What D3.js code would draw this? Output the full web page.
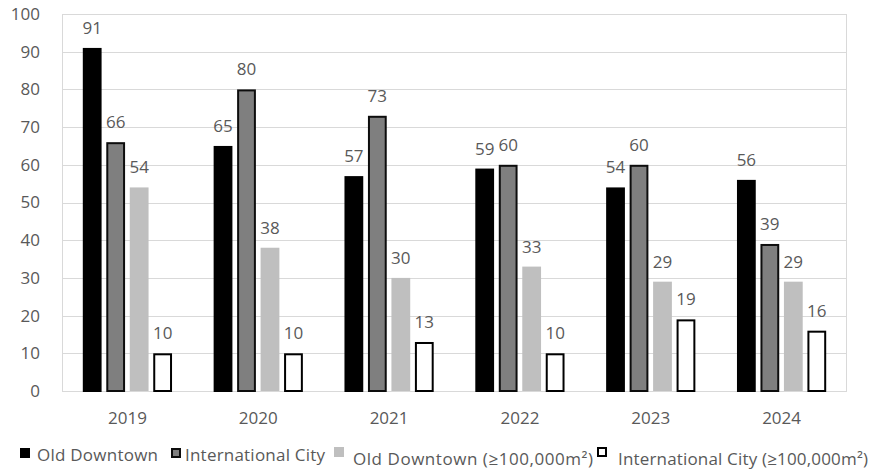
<!DOCTYPE html>
<html>
<head>
<meta charset="utf-8">
<script src="https://cdn.jsdelivr.net/npm/d3@7"></script>
<style>
  html, body { margin: 0; padding: 0; background: #fff; }
  svg { display: block; }
  text { font-family: "Open Sans", sans-serif; }
</style>
</head>
<body>
<svg id="chart" width="874" height="470"></svg>
<script>
const years = ["2019", "2020", "2021", "2022", "2023", "2024"];
const seriesNames = [
  "Old Downtown",
  "International City",
  "Old Downtown (≥100,000m²)",
  "International City (≥100,000m²)"
];
const oldDowntown = [91, 65, 57, 59, 54, 56];
const internationalCity = [66, 80, 73, 60, 60, 39];
const oldDowntownLarge = [54, 38, 30, 33, 29, 29];
const internationalCityLarge = [10, 10, 13, 10, 19, 16];
const yTicks = [0, 10, 20, 30, 40, 50, 60, 70, 80, 90, 100];

const seriesValues = [oldDowntown, internationalCity, oldDowntownLarge, internationalCityLarge];
const styles = [
  { fill: "#000000", stroke: "#000000", sw: 2 },
  { fill: "#7f7f7f", stroke: "#0d0d0d", sw: 2 },
  { fill: "#bfbfbf", stroke: "none", sw: 0 },
  { fill: "#ffffff", stroke: "#000000", sw: 2 }
];

const svg = d3.select("#chart");
const m = { left: 62, right: 847, top: 14, bottom: 391 };

const x0 = d3.scaleBand().domain(years).range([m.left, m.right])
  .paddingInner(0.318).paddingOuter(0.159);
const x1 = d3.scaleBand().domain(d3.range(4)).range([0, x0.bandwidth()])
  .paddingInner(0.2);
const y = d3.scaleLinear().domain([0, 100]).range([m.bottom, m.top]);

// gridlines
svg.append("g").selectAll("line").data(yTicks).join("line")
  .attr("x1", m.left).attr("x2", m.right)
  .attr("y1", d => Math.round(y(d)) + 0.5).attr("y2", d => Math.round(y(d)) + 0.5)
  .attr("stroke", "#d9d9d9").attr("stroke-width", 1);
// plot border verticals
svg.append("line").attr("x1", m.left + 0.5).attr("x2", m.left + 0.5)
  .attr("y1", y(100)).attr("y2", y(0)).attr("stroke", "#d9d9d9");
svg.append("line").attr("x1", m.right - 0.5).attr("x2", m.right - 0.5)
  .attr("y1", y(100)).attr("y2", y(0)).attr("stroke", "#d9d9d9");

// y axis labels
const yAxis = d3.axisLeft(y).tickValues(yTicks).tickSize(0).tickPadding(0);
const yg = svg.append("g").attr("transform", `translate(40,0)`).call(yAxis);
yg.select(".domain").remove();
yg.selectAll("text").attr("font-family", "Open Sans, sans-serif")
  .attr("font-size", 17).attr("fill", "#595959");

// x axis labels
const xAxis = d3.axisBottom(x0).tickSize(0).tickPadding(0);
const xg = svg.append("g").attr("transform", `translate(0,418)`).call(xAxis);
xg.select(".domain").remove();
xg.selectAll("text").attr("font-family", "Open Sans, sans-serif")
  .attr("font-size", 17).attr("fill", "#595959").attr("dy", "0.35em");

// bars
const data = [];
years.forEach((yr, i) => {
  seriesValues.forEach((vals, s) => data.push({ year: yr, s, v: vals[i] }));
});

const bars = svg.append("g");
bars.selectAll("rect").data(data).join("rect")
  .attr("x", d => x0(d.year) + x1(d.s) + styles[d.s].sw / 2)
  .attr("y", d => y(d.v) + styles[d.s].sw / 2)
  .attr("width", d => x1.bandwidth() - styles[d.s].sw)
  .attr("height", d => y(0) - y(d.v) - styles[d.s].sw / 2)
  .attr("fill", d => styles[d.s].fill)
  .attr("stroke", d => styles[d.s].stroke)
  .attr("stroke-width", d => styles[d.s].sw);

// value labels
svg.append("g").selectAll("text").data(data).join("text")
  .attr("x", d => x0(d.year) + x1(d.s) + x1.bandwidth() / 2)
  .attr("y", d => y(d.v) - 14)
  .attr("text-anchor", "middle")
  .attr("font-size", 17).attr("fill", "#595959")
  .text(d => d.v);

// legend
const legendItems = [
  { sq: 20, sqy: 448, tx: 37, ty: 461, w: 121 },
  { sq: 171, sqy: 448, tx: 185, ty: 461, w: 140 },
  { sq: 334, sqy: 447, tx: 353, ty: 465, w: 240 },
  { sq: 597, sqy: 447, tx: 618, ty: 465, w: 250 }
];
const lg = svg.append("g");
legendItems.forEach((it, s) => {
  const st = styles[s];
  lg.append("rect")
    .attr("x", it.sq + st.sw / 2).attr("y", it.sqy + st.sw / 2)
    .attr("width", 10 - st.sw).attr("height", 10 - st.sw)
    .attr("fill", st.fill).attr("stroke", st.stroke).attr("stroke-width", st.sw);
  lg.append("text").attr("x", it.tx).attr("y", it.ty)
    .attr("font-size", 17).attr("fill", "#595959")
    .attr("textLength", it.w).attr("lengthAdjust", "spacing")
    .text(seriesNames[s]);
});
</script>
</body>
</html>
